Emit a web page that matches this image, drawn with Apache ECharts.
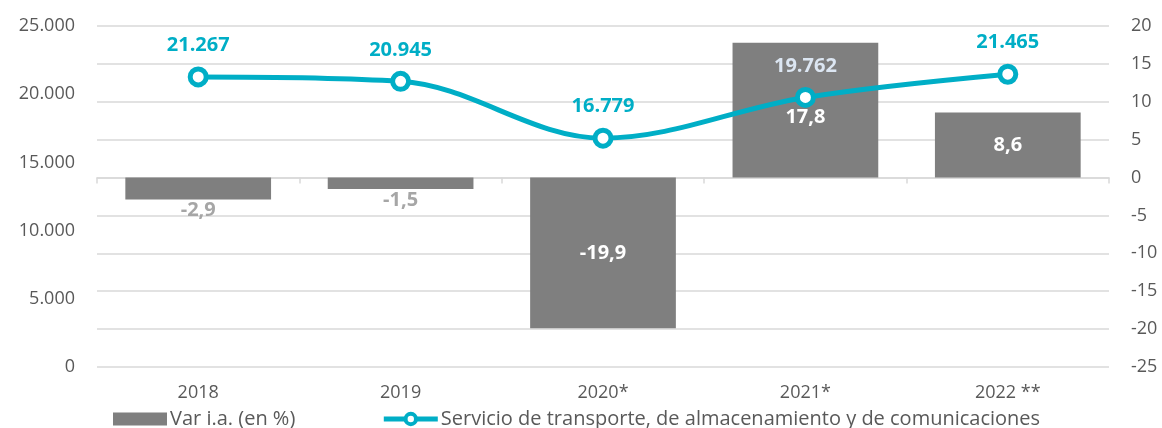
<!DOCTYPE html>
<html>
<head>
<meta charset="utf-8">
<script src="https://cdn.jsdelivr.net/npm/echarts@6/dist/echarts.min.js"></script>
<style>
  html, body { margin: 0; padding: 0; background: #fff; }
  #main { width: 1162px; height: 428px; }
</style>
</head>
<body>
<div id="main"></div>
<script>
var categories = ['2018', '2019', '2020*', '2021*', '2022 **'];
var servicio = [21267, 20945, 16779, 19762, 21465];
var variacion = [-2.9, -1.5, -19.9, 17.8, 8.6];

var FONT = 'Open Sans';
var TEXT = '#595959';
var GRID = '#d9d9d9';
var TEAL = '#00aec6';
var BAR = '#7f7f7f';

function miles(v) {
    return String(v).replace(/\B(?=(\d{3})+(?!\d))/g, '.');
}
function coma(v) {
    return v.toFixed(1).replace('.', ',');
}

var barData = variacion.map(function(v, i) {
    var neg = v < 0 && v > -10;
    var lab = neg ? { position: 'bottom', distance: 1, color: '#a6a6a6' } : { position: 'inside', color: '#ffffff' };
    // el marcador de la línea tapa la etiqueta de 2021
    if (categories[i] === '2021*') lab.offset = [0, 7];
    return { value: v, label: lab };
});

var lineData = servicio.map(function(v, i) {
    return {
        value: v,
        label: { color: categories[i] === '2021*' ? '#dce6f2' : TEAL }
    };
});

var chart = echarts.init(document.getElementById('main'));
chart.setOption({
    animation: false,
    textStyle: { fontFamily: FONT },
    grid: { left: 97, right: 53, top: 26, bottom: 61 },
    legend: {
        left: 108,
        top: 404,
        itemWidth: 54,
        itemHeight: 13,
        itemGap: 86,
        textStyle: { fontFamily: FONT, fontSize: 20, color: TEXT, padding: [0, 0, 0, -2] },
        data: [
            { name: 'Var i.a. (en %)', icon: 'rect' },
            {
                name: 'Servicio de transporte, de almacenamiento y de comunicaciones',
                lineStyle: { width: 5, color: TEAL },
                itemStyle: { color: '#ffffff', borderColor: TEAL, borderWidth: 4 }
            }
        ]
    },
    xAxis: [{
        type: 'category',
        data: categories,
        position: 'bottom',
        axisLine: { show: false, onZero: false },
        axisTick: { show: false },
        axisLabel: { margin: 17, fontFamily: FONT, fontSize: 18, color: TEXT }
    }, {
        type: 'category',
        data: categories,
        position: 'bottom',
        axisLine: { show: true, onZero: true, onZeroAxisIndex: 1, lineStyle: { color: GRID, width: 1.5 } },
        axisTick: { show: true, length: 6, lineStyle: { color: GRID, width: 1.5 } },
        axisLabel: { show: false },
        splitLine: { show: false }
    }],
    yAxis: [{
        type: 'value',
        min: 0,
        max: 25000,
        interval: 5000,
        axisLine: { show: false },
        axisTick: { show: false },
        splitLine: { show: false },
        axisLabel: {
            margin: 22,
            fontFamily: FONT,
            fontSize: 18,
            color: TEXT,
            formatter: function(v) { return miles(v); }
        }
    }, {
        type: 'value',
        min: -25,
        max: 20,
        interval: 5,
        position: 'right',
        axisLine: { show: false },
        axisTick: { show: false },
        splitLine: { show: true, lineStyle: { color: GRID, width: 1.5 } },
        axisLabel: { margin: 22, fontFamily: FONT, fontSize: 18, color: TEXT }
    }],
    series: [{
        name: 'Var i.a. (en %)',
        type: 'bar',
        xAxisIndex: 0,
        yAxisIndex: 1,
        barCategoryGap: '28%',
        itemStyle: { color: BAR },
        label: {
            show: true,
            fontFamily: FONT,
            fontSize: 20,
            fontWeight: 'bold',
            formatter: function(p) { return coma(p.value); }
        },
        data: barData,
        z: 2
    }, {
        name: 'Servicio de transporte, de almacenamiento y de comunicaciones',
        type: 'line',
        xAxisIndex: 0,
        yAxisIndex: 0,
        smooth: 0.35,
        symbol: 'circle',
        symbolSize: 16,
        lineStyle: { color: TEAL, width: 5 },
        itemStyle: { color: '#ffffff', borderColor: TEAL, borderWidth: 5 },
        label: {
            show: true,
            position: 'top',
            distance: 11,
            fontFamily: FONT,
            fontSize: 20,
            fontWeight: 'bold',
            formatter: function(p) { return miles(p.value); }
        },
        data: lineData,
        z: 5
    }]
});
</script>
</body>
</html>
